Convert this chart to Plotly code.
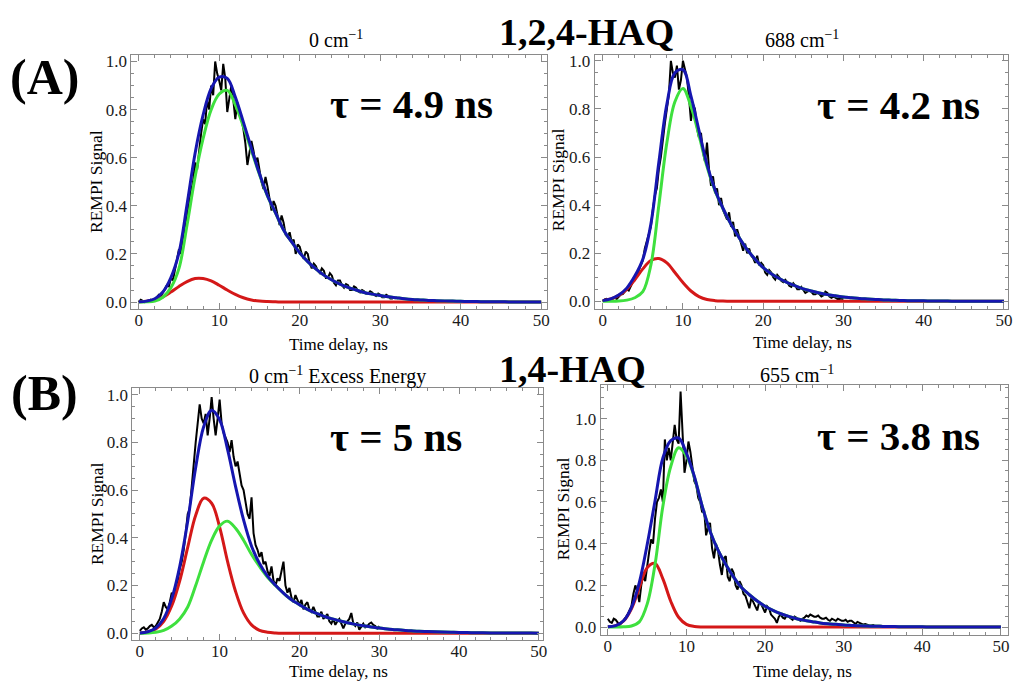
import numpy as np
import plotly.graph_objects as go

# ---------------------------------------------------------------
# Fit curves, sampled every 1 ns from 0 to 50 ns
# ---------------------------------------------------------------
t_fit = list(range(0, 51))

# (A) 1,2,4-HAQ, 0 cm^-1
a_red = [0.001, 0.003, 0.01, 0.022, 0.042, 0.065, 0.085, 0.098, 0.098, 0.088,
         0.07, 0.05, 0.032, 0.018, 0.009, 0.004, 0.002, 0.001] + [0.0] * 33
a_green = [0.0, 0.001, 0.004, 0.02, 0.06, 0.14, 0.32, 0.52, 0.68, 0.8,
           0.865, 0.88, 0.82, 0.73, 0.63, 0.53, 0.44, 0.37, 0.3, 0.25,
           0.205, 0.168, 0.138, 0.112, 0.092, 0.075, 0.061, 0.05, 0.04, 0.033,
           0.027, 0.022, 0.018, 0.014, 0.011, 0.009, 0.007, 0.006, 0.005, 0.004,
           0.003, 0.0025, 0.002, 0.0016, 0.0013, 0.001, 0.0008, 0.0006, 0.0005, 0.0004,
           0.0003]
a_blue = [0.001, 0.004, 0.014, 0.042, 0.102, 0.205, 0.405, 0.618, 0.778, 0.888,
          0.935, 0.93, 0.852, 0.748, 0.639, 0.534, 0.442, 0.371, 0.3, 0.25,
          0.205, 0.168, 0.138, 0.112, 0.092, 0.075, 0.061, 0.05, 0.04, 0.033,
          0.027, 0.022, 0.018, 0.014, 0.011, 0.009, 0.007, 0.006, 0.005, 0.004,
          0.003, 0.0025, 0.002, 0.0016, 0.0013, 0.001, 0.0008, 0.0006, 0.0005, 0.0004,
          0.0003]

# (A) 1,2,4-HAQ, 688 cm^-1
b_red = [0.003, 0.01, 0.025, 0.05, 0.09, 0.135, 0.17, 0.178, 0.16, 0.12,
         0.078, 0.043, 0.02, 0.008, 0.003, 0.001] + [0.0] * 35
b_green = [0.0, 0.0, 0.001, 0.005, 0.015, 0.04, 0.15, 0.4, 0.66, 0.83,
           0.885, 0.81, 0.69, 0.56, 0.46, 0.385, 0.32, 0.265, 0.215, 0.175,
           0.14, 0.115, 0.095, 0.078, 0.064, 0.052, 0.043, 0.035, 0.028, 0.023,
           0.018, 0.015, 0.012, 0.01, 0.008, 0.006, 0.005, 0.004, 0.003, 0.0025,
           0.002, 0.0016, 0.0013, 0.001, 0.0008, 0.0006, 0.0005, 0.0004, 0.0003, 0.0002,
           0.0002]
b_blue = [0.003, 0.01, 0.026, 0.055, 0.105, 0.175, 0.32, 0.578, 0.82, 0.95,
          0.963, 0.853, 0.71, 0.568, 0.463, 0.386, 0.32, 0.265, 0.215, 0.175,
          0.14, 0.115, 0.095, 0.078, 0.064, 0.052, 0.043, 0.035, 0.028, 0.023,
          0.018, 0.015, 0.012, 0.01, 0.008, 0.006, 0.005, 0.004, 0.003, 0.0025,
          0.002, 0.0016, 0.0013, 0.001, 0.0008, 0.0006, 0.0005, 0.0004, 0.0003, 0.0002,
          0.0002]

# (B) 1,4-HAQ, 0 cm^-1 excess energy
c_red = [0.001, 0.005, 0.018, 0.05, 0.115, 0.22, 0.36, 0.495, 0.566, 0.545,
         0.445, 0.3, 0.175, 0.085, 0.035, 0.012, 0.004, 0.001] + [0.0] * 33
c_green = [0.0, 0.001, 0.004, 0.012, 0.03, 0.06, 0.11, 0.2, 0.3, 0.39,
           0.45, 0.47, 0.44, 0.39, 0.33, 0.28, 0.235, 0.2, 0.168, 0.14,
           0.12, 0.1, 0.085, 0.072, 0.061, 0.052, 0.044, 0.037, 0.031, 0.026,
           0.022, 0.018, 0.015, 0.012, 0.01, 0.008, 0.007, 0.006, 0.005, 0.004,
           0.003, 0.0025, 0.002, 0.0016, 0.0013, 0.001, 0.0008, 0.0006, 0.0005, 0.0004,
           0.0003]
c_blue = [0.001, 0.006, 0.022, 0.062, 0.145, 0.28, 0.47, 0.695, 0.866, 0.935,
          0.895, 0.77, 0.615, 0.475, 0.365, 0.292, 0.239, 0.201, 0.168, 0.14,
          0.12, 0.1, 0.085, 0.072, 0.061, 0.052, 0.044, 0.037, 0.031, 0.026,
          0.022, 0.018, 0.015, 0.012, 0.01, 0.008, 0.007, 0.006, 0.005, 0.004,
          0.003, 0.0025, 0.002, 0.0016, 0.0013, 0.001, 0.0008, 0.0006, 0.0005, 0.0004,
          0.0003]

# (B) 1,4-HAQ, 655 cm^-1
d_red = [0.001, 0.007, 0.029, 0.088, 0.188, 0.285, 0.305, 0.231, 0.124, 0.047,
         0.013, 0.003, 0.0005] + [0.0] * 38
d_green = [0.0, 0.0, 0.001, 0.005, 0.025, 0.11, 0.3, 0.58, 0.77, 0.86,
           0.82, 0.72, 0.58, 0.46, 0.37, 0.3, 0.24, 0.19, 0.155, 0.125,
           0.1, 0.08, 0.064, 0.051, 0.04, 0.032, 0.026, 0.02, 0.016, 0.013,
           0.01, 0.008, 0.006, 0.005, 0.004, 0.003, 0.0025, 0.002, 0.0015, 0.0012,
           0.001, 0.0008, 0.0006, 0.0005, 0.0004, 0.0003, 0.0002, 0.0002, 0.0001, 0.0001,
           0.0001]
d_blue = [0.001, 0.007, 0.03, 0.093, 0.213, 0.395, 0.605, 0.811, 0.894, 0.907,
          0.833, 0.723, 0.58, 0.46, 0.37, 0.3, 0.24, 0.19, 0.155, 0.125,
          0.1, 0.08, 0.064, 0.051, 0.04, 0.032, 0.026, 0.02, 0.016, 0.013,
          0.01, 0.008, 0.006, 0.005, 0.004, 0.003, 0.0025, 0.002, 0.0015, 0.0012,
          0.001, 0.0008, 0.0006, 0.0005, 0.0004, 0.0003, 0.0002, 0.0002, 0.0001, 0.0001,
          0.0001]

# ---------------------------------------------------------------
# Measured REMPI signal, one value every 0.25 ns starting at 0 ns
# ---------------------------------------------------------------
data_step = 0.25
a_signal = [
    0.0, 0.01, 0.005, 0.0, 0.003, 0.008, 0.01, 0.006, 0.012, 0.02,
    0.03, 0.025, 0.04, 0.055, 0.07, 0.065, 0.1, 0.09, 0.13, 0.17,
    0.22, 0.2, 0.27, 0.3, 0.36, 0.4, 0.46, 0.5, 0.58, 0.55,
    0.64, 0.7, 0.76, 0.74, 0.84, 0.8, 0.9, 0.86, 1.0, 0.95,
    0.92, 0.88, 0.99, 0.93, 0.79, 0.85, 0.9, 0.84, 0.76, 0.83,
    0.8, 0.76, 0.72, 0.66, 0.57, 0.62, 0.67, 0.63, 0.58, 0.6,
    0.55, 0.5, 0.47, 0.52, 0.48, 0.42, 0.38, 0.42, 0.4, 0.36,
    0.32, 0.36, 0.33, 0.28, 0.27, 0.29, 0.25, 0.26, 0.2, 0.24,
    0.23, 0.2, 0.18, 0.21, 0.2, 0.16, 0.14, 0.16, 0.15, 0.13,
    0.12, 0.14, 0.13, 0.1, 0.1, 0.12, 0.11, 0.08, 0.07, 0.09,
    0.09, 0.07, 0.06, 0.075, 0.07, 0.05, 0.05, 0.065, 0.06, 0.045,
    0.04, 0.05, 0.045, 0.035, 0.035, 0.045, 0.04, 0.03, 0.025, 0.035,
    0.03, 0.02, 0.02, 0.03, 0.025, 0.015, 0.015, 0.02, 0.015]
b_signal = [
    0.0, 0.008, 0.01, 0.004, 0.005, 0.012, 0.015, 0.01, 0.02, 0.028,
    0.03, 0.04, 0.05, 0.045, 0.065, 0.08, 0.09, 0.11, 0.13, 0.15,
    0.17, 0.22, 0.25, 0.27, 0.31, 0.38, 0.44, 0.47, 0.55, 0.6,
    0.68, 0.74, 0.8, 0.86, 1.0, 0.95, 0.93, 0.98, 0.88, 0.92,
    1.0, 0.97, 0.93, 0.85, 0.75, 0.82, 0.8, 0.72, 0.68, 0.7,
    0.62, 0.58, 0.66, 0.55, 0.48, 0.52, 0.45, 0.47, 0.4, 0.43,
    0.38, 0.36, 0.34, 0.37, 0.31, 0.33, 0.27, 0.3, 0.27, 0.24,
    0.21, 0.24, 0.2, 0.22, 0.19, 0.18, 0.16, 0.19, 0.15, 0.16,
    0.15, 0.12, 0.11, 0.13, 0.12, 0.1, 0.09, 0.11, 0.1, 0.085,
    0.08, 0.09, 0.08, 0.065, 0.06, 0.075, 0.065, 0.05, 0.05, 0.06,
    0.045, 0.035, 0.04, 0.045, 0.04, 0.03, 0.03, 0.035, 0.03, 0.02,
    0.025, 0.04, 0.035, 0.02, 0.015, 0.02, 0.015, 0.01, 0.01, 0.012,
    0.01]
c_signal = [
    0.01, 0.02, 0.025, 0.015, 0.02, 0.03, 0.035, 0.025, 0.03, 0.045,
    0.06, 0.09, 0.13, 0.11, 0.1, 0.13, 0.17, 0.15, 0.2, 0.22,
    0.27, 0.3, 0.35, 0.42, 0.5, 0.52, 0.62, 0.7, 0.8, 0.88,
    0.96, 0.9, 0.88, 0.92, 0.83, 0.9, 0.99, 0.9, 0.83, 0.9,
    0.98, 0.88, 0.84, 0.82, 0.8, 0.76, 0.81, 0.74, 0.7, 0.72,
    0.66, 0.62, 0.6, 0.55, 0.5, 0.48, 0.57, 0.42, 0.37, 0.35,
    0.32, 0.34, 0.29, 0.3, 0.26, 0.24, 0.28, 0.22, 0.2, 0.23,
    0.22, 0.26, 0.3, 0.2, 0.17, 0.19, 0.15, 0.13, 0.16, 0.14,
    0.12, 0.14, 0.1, 0.12, 0.13, 0.1, 0.09, 0.11, 0.09, 0.07,
    0.07, 0.09, 0.06, 0.07, 0.08, 0.05, 0.04, 0.06, 0.035, 0.05,
    0.06, 0.04, 0.02, 0.04, 0.05, 0.06, 0.085, 0.04, 0.03, 0.045,
    0.015, 0.03, 0.04, 0.025, 0.03, 0.04, 0.045, 0.035, 0.03, 0.02,
    0.03]
d_signal = [
    0.04, 0.025, 0.02, 0.04, 0.035, 0.02, 0.01, 0.02, 0.03, 0.045,
    0.06, 0.08, 0.1, 0.16, 0.2, 0.17, 0.12, 0.2, 0.25, 0.22,
    0.3, 0.36, 0.42, 0.4, 0.52, 0.6, 0.62, 0.66, 0.6, 0.9,
    0.8, 0.86, 0.8, 0.88, 0.97, 0.9, 0.88, 1.13, 0.95, 0.74,
    0.8, 0.89, 0.84, 0.78, 0.7, 0.68, 0.62, 0.6, 0.55, 0.56,
    0.44, 0.48, 0.5, 0.38, 0.33, 0.4, 0.37, 0.3, 0.25, 0.33,
    0.34, 0.24, 0.22, 0.28, 0.26, 0.2, 0.18, 0.22, 0.2, 0.16,
    0.15, 0.12, 0.09, 0.14, 0.12, 0.1, 0.08, 0.12, 0.11, 0.09,
    0.07, 0.1, 0.09, 0.06, 0.05, 0.04, 0.02, 0.05, 0.06, 0.045,
    0.04, 0.055, 0.05, 0.04, 0.035, 0.05, 0.045, 0.035, 0.03, 0.04,
    0.045, 0.055, 0.05, 0.06, 0.055, 0.05, 0.05, 0.055, 0.045, 0.04,
    0.04, 0.045, 0.035, 0.03, 0.04, 0.035, 0.03, 0.04, 0.035, 0.03,
    0.03, 0.035, 0.025, 0.03, 0.03, 0.02, 0.015, 0.025, 0.02, 0.015,
    0.012, 0.015, 0.01, 0.008, 0.008, 0.01, 0.006, 0.007, 0.005, 0.006,
    0.004]

x_ticks = [0, 10, 20, 30, 40, 50]
y_ticks = [0.0, 0.2, 0.4, 0.6, 0.8, 1.0]
y_tick_text = ["0.0", "0.2", "0.4", "0.6", "0.8", "1.0"]

W, H = 1013, 685
SERIF = "Liberation Serif"
FRAME = "#8a8a8a"
C_BLACK = "#000000"
C_RED = "#d41818"
C_GREEN = "#3ee03e"
C_BLUE = "#1616b0"


def px(x):
    return x / W


def py(y):
    return 1 - y / H


# panel frames in pixels: (left, right, top, bottom), axis ranges
panels = [
    dict(sig=a_signal, red=a_red, green=a_green, blue=a_blue,
         box=(132, 549, 52, 309), xr=[-0.9, 50.7], yr=[-0.03, 1.029]),
    dict(sig=b_signal, red=b_red, green=b_green, blue=b_blue,
         box=(597, 1012, 52, 309), xr=[-1.0, 50.5], yr=[-0.033, 1.026]),
    dict(sig=c_signal, red=c_red, green=c_green, blue=c_blue,
         box=(133, 545, 388, 643), xr=[-0.92, 50.5], yr=[-0.03, 1.03]),
    dict(sig=d_signal, red=d_red, green=d_green, blue=d_blue,
         box=(603, 1012, 385, 638), xr=[-0.92, 50.9], yr=[-0.04, 1.163]),
]

fig = go.Figure()
layout_axes = {}

for i, p in enumerate(panels):
    n = "" if i == 0 else str(i + 1)
    xa, ya = "x" + n, "y" + n
    t_sig = np.arange(len(p["sig"])) * data_step
    fig.add_trace(go.Scatter(x=t_sig, y=p["sig"], mode="lines",
                             line=dict(color=C_BLACK, width=2.0),
                             xaxis=xa, yaxis=ya, hoverinfo="skip"))
    for key, col in (("red", C_RED), ("green", C_GREEN), ("blue", C_BLUE)):
        fig.add_trace(go.Scatter(x=t_fit, y=p[key], mode="lines",
                                 line=dict(color=col, width=3.0, shape="spline",
                                           smoothing=1.0),
                                 xaxis=xa, yaxis=ya, hoverinfo="skip"))
    left, right, top, bottom = p["box"]
    common = dict(showline=True, linecolor=FRAME, linewidth=1, mirror="ticks",
                  ticks="inside", tickcolor=FRAME, tickwidth=1, ticklen=6,
                  showgrid=False, zeroline=False,
                  tickfont=dict(family=SERIF, size=17, color="#1a1a1a"))
    layout_axes["xaxis" + n] = dict(
        common, domain=[px(left), px(right)], range=p["xr"], anchor=ya,
        tickvals=x_ticks, ticklabelstandoff=-5,
        minor=dict(ticks="inside", ticklen=3, tickcolor=FRAME, dtick=2, tick0=0))
    layout_axes["yaxis" + n] = dict(
        common, domain=[py(bottom), py(top)], range=p["yr"], anchor=xa,
        tickvals=y_ticks, ticktext=y_tick_text, ticklabelstandoff=0,
        minor=dict(ticks="inside", ticklen=3, tickcolor=FRAME, dtick=0.05, tick0=0))

annotations = []


def label(text, x, y, size, bold=False, angle=0, color="#000000"):
    annotations.append(dict(
        text=f"<b>{text}</b>" if bold else text,
        x=px(x), y=py(y), xref="paper", yref="paper",
        xanchor="center", yanchor="middle", showarrow=False, textangle=angle,
        font=dict(family=SERIF, size=size, color=color)))


# panel headings
label("0 cm<sup>−1</sup>", 337, 36, 20)
label("688 cm<sup>−1</sup>", 805, 36, 20)
label("0 cm<sup>−1</sup> Excess Energy", 339, 376, 20)
label("655 cm<sup>−1</sup>", 800, 374, 20)
label("1,2,4-HAQ", 589, 29, 38, bold=True)
label("1,4-HAQ", 575, 369, 38, bold=True)
label("(A)", 45, 75, 50, bold=True)
label("(B)", 45, 393, 50, bold=True)

# lifetimes
label("τ = 4.9 ns", 413, 102, 41, bold=True)
label("τ = 4.2 ns", 902, 103, 41, bold=True)
label("τ = 5 ns", 398, 438, 41, bold=True)
label("τ = 3.8 ns", 902, 437, 41, bold=True)

# axis titles
for (xt, yt), (xr, yr) in (((340, 345), (97, 180)), ((806, 343), (561, 178)),
                           ((340, 674), (98, 515)), ((806, 674), (565, 510))):
    label("Time delay, ns", xt, yt, 17)
    label("REMPI Signal", xr, yr, 17.5, angle=-90)

fig.update_layout(
    width=W, height=H, margin=dict(l=0, r=0, t=0, b=0),
    paper_bgcolor="white", plot_bgcolor="white", showlegend=False,
    annotations=annotations, **layout_axes)

fig.write_html("out.html")
